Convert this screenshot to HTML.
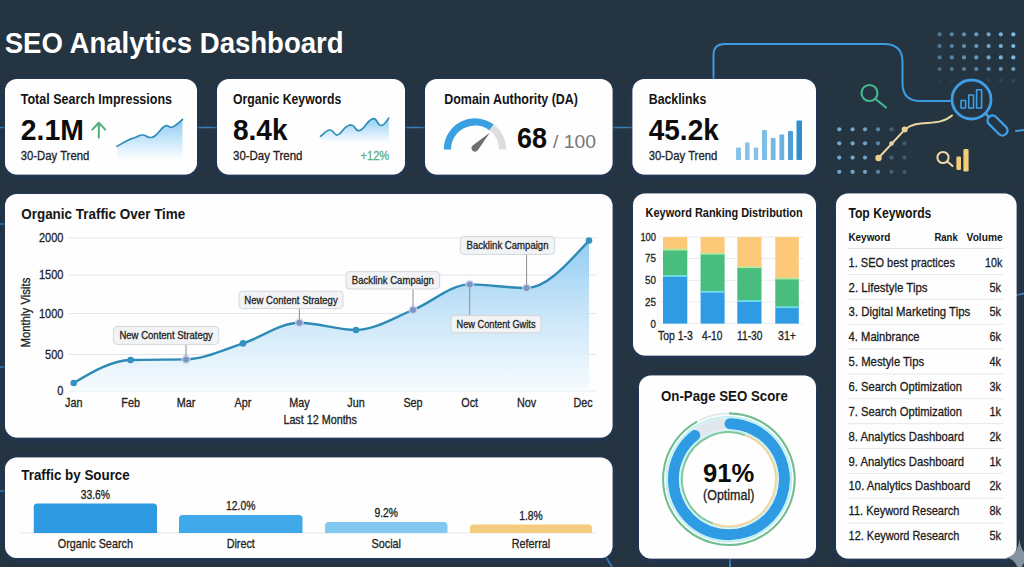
<!DOCTYPE html>
<html lang="en"><head><meta charset="utf-8"><title>SEO Analytics Dashboard</title>
<style>
html,body{margin:0;padding:0;background:#253441;}
body{width:1024px;height:567px;overflow:hidden;font-family:"Liberation Sans",sans-serif;}
svg{display:block;font-family:"Liberation Sans",sans-serif;}
text{white-space:pre;}
</style></head><body>
<svg width="1024" height="567" viewBox="0 0 1024 567">
<defs>
<filter id="sh" x="-5%" y="-10%" width="110%" height="125%"><feDropShadow dx="0" dy="1.5" stdDeviation="3" flood-color="#1c3763" flood-opacity="1"/></filter>
<linearGradient id="gs1" gradientUnits="userSpaceOnUse" x1="0" y1="120" x2="0" y2="160"><stop offset="0" stop-color="#8fcdf3"/><stop offset="1" stop-color="#ffffff"/></linearGradient>
<linearGradient id="gs2" gradientUnits="userSpaceOnUse" x1="0" y1="118" x2="0" y2="143"><stop offset="0" stop-color="#8fcdf3"/><stop offset="1" stop-color="#ffffff"/></linearGradient>
<linearGradient id="gmain" gradientUnits="userSpaceOnUse" x1="0" y1="240" x2="0" y2="391"><stop offset="0" stop-color="#93cdf3"/><stop offset=".55" stop-color="#cfe8f9"/><stop offset="1" stop-color="#f6fbfe"/></linearGradient>
</defs>
<rect width="1024" height="567" fill="#253441"/>
<g fill="none" stroke="#3a8fd0" stroke-width="1.6" stroke-linecap="round">
<path d="M0 127.5H5M197 127.5H217M405 127.5H425M612 127.5H633" stroke="#3b80b8"/>
<path d="M0 224H5M0 367H5M0 491H5" stroke="#3b80b8"/>
<path d="M713.5 79V55Q713.5 44 724.5 44H884Q902.5 44 902.5 62V83Q902.5 101 920 101H950" stroke="#3d9be0" stroke-width="2"/>
<path d="M1016 131L1024 130" stroke="#3d9be0" stroke-width="2"/>
<path d="M730 558V567" stroke="#4aa3df" stroke-width="1.6"/>
<path d="M1016 295Q1020 295 1024 293.5" stroke="#4a9ad8"/>
<path d="M606 557L612 567" stroke="#3b80b8"/>
</g>
<circle cx="939.6" cy="34.3" r="2.1" fill="#7fbde6" opacity="0.50"/>
<circle cx="951.8" cy="34.3" r="2.1" fill="#7fbde6" opacity="0.58"/>
<circle cx="964" cy="34.3" r="2.1" fill="#7fbde6" opacity="0.66"/>
<circle cx="976.3" cy="34.3" r="2.1" fill="#7fbde6" opacity="0.74"/>
<circle cx="988.6" cy="34.3" r="2.1" fill="#7fbde6" opacity="0.82"/>
<circle cx="1000.8" cy="34.3" r="2.1" fill="#7fbde6" opacity="0.90"/>
<circle cx="1013.3" cy="34.3" r="2.1" fill="#7fbde6" opacity="0.98"/>
<circle cx="939.6" cy="46" r="2.1" fill="#7fbde6" opacity="0.50"/>
<circle cx="951.8" cy="46" r="2.1" fill="#7fbde6" opacity="0.58"/>
<circle cx="964" cy="46" r="2.1" fill="#7fbde6" opacity="0.66"/>
<circle cx="976.3" cy="46" r="2.1" fill="#7fbde6" opacity="0.74"/>
<circle cx="988.6" cy="46" r="2.1" fill="#7fbde6" opacity="0.82"/>
<circle cx="1000.8" cy="46" r="2.1" fill="#7fbde6" opacity="0.90"/>
<circle cx="1013.3" cy="46" r="2.1" fill="#7fbde6" opacity="0.98"/>
<circle cx="939.6" cy="57.4" r="2.1" fill="#7fbde6" opacity="0.50"/>
<circle cx="951.8" cy="57.4" r="2.1" fill="#7fbde6" opacity="0.58"/>
<circle cx="964" cy="57.4" r="2.1" fill="#7fbde6" opacity="0.66"/>
<circle cx="976.3" cy="57.4" r="2.1" fill="#7fbde6" opacity="0.74"/>
<circle cx="988.6" cy="57.4" r="2.1" fill="#7fbde6" opacity="0.82"/>
<circle cx="1000.8" cy="57.4" r="2.1" fill="#7fbde6" opacity="0.90"/>
<circle cx="1013.3" cy="57.4" r="2.1" fill="#7fbde6" opacity="0.98"/>
<circle cx="939.6" cy="69" r="2.1" fill="#7fbde6" opacity="0.40"/>
<circle cx="951.8" cy="69" r="2.1" fill="#7fbde6" opacity="0.46"/>
<circle cx="964" cy="69" r="2.1" fill="#7fbde6" opacity="0.53"/>
<circle cx="976.3" cy="69" r="2.1" fill="#7fbde6" opacity="0.59"/>
<circle cx="988.6" cy="69" r="2.1" fill="#7fbde6" opacity="0.66"/>
<circle cx="1000.8" cy="69" r="2.1" fill="#7fbde6" opacity="0.72"/>
<circle cx="1013.3" cy="69" r="2.1" fill="#7fbde6" opacity="0.78"/>
<circle cx="939.6" cy="80.5" r="2.1" fill="#7fbde6" opacity="0.06"/>
<circle cx="951.8" cy="80.5" r="2.1" fill="#7fbde6" opacity="0.07"/>
<circle cx="964" cy="80.5" r="2.1" fill="#7fbde6" opacity="0.08"/>
<circle cx="976.3" cy="80.5" r="2.1" fill="#7fbde6" opacity="0.09"/>
<circle cx="988.6" cy="80.5" r="2.1" fill="#7fbde6" opacity="0.10"/>
<circle cx="1000.8" cy="80.5" r="2.1" fill="#7fbde6" opacity="0.11"/>
<circle cx="1013.3" cy="80.5" r="2.1" fill="#7fbde6" opacity="0.12"/>
<circle cx="839.3" cy="129.3" r="2.1" fill="#7fbde6" opacity="0.85"/>
<circle cx="852.6" cy="129.3" r="2.1" fill="#7fbde6" opacity="0.85"/>
<circle cx="865" cy="129.3" r="2.1" fill="#7fbde6" opacity="0.80"/>
<circle cx="878" cy="129.3" r="2.1" fill="#7fbde6" opacity="0.60"/>
<circle cx="891.5" cy="129.3" r="2.1" fill="#7fbde6" opacity="0.35"/>
<circle cx="904.5" cy="129.3" r="2.1" fill="#7fbde6" opacity="0.30"/>
<circle cx="839.3" cy="143.3" r="2.1" fill="#7fbde6" opacity="0.85"/>
<circle cx="852.6" cy="143.3" r="2.1" fill="#7fbde6" opacity="0.85"/>
<circle cx="865" cy="143.3" r="2.1" fill="#7fbde6" opacity="0.80"/>
<circle cx="878" cy="143.3" r="2.1" fill="#7fbde6" opacity="0.60"/>
<circle cx="891.5" cy="143.3" r="2.1" fill="#7fbde6" opacity="0.35"/>
<circle cx="904.5" cy="143.3" r="2.1" fill="#7fbde6" opacity="0.30"/>
<circle cx="839.3" cy="157.6" r="2.1" fill="#7fbde6" opacity="0.85"/>
<circle cx="852.6" cy="157.6" r="2.1" fill="#7fbde6" opacity="0.85"/>
<circle cx="865" cy="157.6" r="2.1" fill="#7fbde6" opacity="0.80"/>
<circle cx="878" cy="157.6" r="2.1" fill="#7fbde6" opacity="0.60"/>
<circle cx="891.5" cy="157.6" r="2.1" fill="#7fbde6" opacity="0.35"/>
<circle cx="904.5" cy="157.6" r="2.1" fill="#7fbde6" opacity="0.30"/>
<circle cx="839.3" cy="171.8" r="2.1" fill="#7fbde6" opacity="0.85"/>
<circle cx="852.6" cy="171.8" r="2.1" fill="#7fbde6" opacity="0.85"/>
<circle cx="865" cy="171.8" r="2.1" fill="#7fbde6" opacity="0.80"/>
<circle cx="878" cy="171.8" r="2.1" fill="#7fbde6" opacity="0.60"/>
<circle cx="891.5" cy="171.8" r="2.1" fill="#7fbde6" opacity="0.35"/>
<circle cx="904.5" cy="171.8" r="2.1" fill="#7fbde6" opacity="0.30"/>
<g fill="none" stroke="#43b98c" stroke-width="2.2" stroke-linecap="round"><circle cx="869.5" cy="93" r="8"/><path d="M875.5 99L886 107.5"/></g>
<g fill="none" stroke="#3f9ee4" stroke-width="2.8" stroke-linecap="round" stroke-linejoin="round"><circle cx="971.5" cy="99.5" r="19.5"/><path d="M985.5 113.5L989 117"/><rect x="-5" y="-12" width="10" height="24" rx="5" transform="translate(997.5 125.5) rotate(-45)" stroke-width="2.4"/><g stroke-width="1.6"><rect x="961" y="100.5" width="4.6" height="7.5"/><rect x="968.7" y="95" width="4.8" height="13"/><rect x="976.6" y="89.8" width="5" height="18.2"/></g></g>
<g fill="none" stroke="#ecd6a3" stroke-width="2" stroke-linecap="round"><path d="M878.5 158L904.7 129.6C918 118 938 128 952 115.5"/></g>
<circle cx="878.5" cy="158" r="3.2" fill="#f1cf8a"/><circle cx="904.7" cy="129.6" r="3" fill="#eccf95"/><circle cx="891.5" cy="143.5" r="2.2" fill="#e8d4a8"/>
<g fill="none" stroke="#f0d9a6" stroke-width="2" stroke-linecap="round"><circle cx="943" cy="157.5" r="5.6"/><path d="M947.3 161.6L952.5 166"/></g>
<rect x="956.4" y="156.5" width="4.6" height="13.5" rx="1.2" fill="#f2cd78"/><rect x="963.4" y="149" width="5.2" height="22.6" rx="1.4" fill="#f2cd78"/>
<text x="4.70" y="52.70" font-size="30.1" font-weight="700" fill="#ffffff" text-anchor="start" textLength="339.00" lengthAdjust="spacingAndGlyphs">SEO Analytics Dashboard</text>
<rect x="5" y="79" width="192" height="95.5" rx="12" fill="#fefefe" filter="url(#sh)"/>
<rect x="217" y="79" width="188" height="95.5" rx="12" fill="#fefefe" filter="url(#sh)"/>
<rect x="425" y="79" width="187.5" height="95.5" rx="12" fill="#fefefe" filter="url(#sh)"/>
<rect x="632.5" y="79" width="183.5" height="95.5" rx="12" fill="#fefefe" filter="url(#sh)"/>
<rect x="5" y="194" width="607.5" height="243.5" rx="12" fill="#fefefe" filter="url(#sh)"/>
<rect x="5" y="457.5" width="607.5" height="100.5" rx="12" fill="#fefefe" filter="url(#sh)"/>
<rect x="633" y="193.5" width="183" height="162" rx="12" fill="#fefefe" filter="url(#sh)"/>
<rect x="639" y="375.5" width="177" height="183" rx="12" fill="#fefefe" filter="url(#sh)"/>
<rect x="836" y="193.5" width="180.5" height="365" rx="12" fill="#fefefe" filter="url(#sh)"/>
<text x="20.75" y="103.80" font-size="14.31" font-weight="700" fill="#141414" text-anchor="start" textLength="151.25" lengthAdjust="spacingAndGlyphs">Total Search Impressions</text>
<text x="20.75" y="139.50" font-size="29.15" font-weight="700" fill="#0c0c0c" text-anchor="start" textLength="63.00" lengthAdjust="spacingAndGlyphs">2.1M</text>
<text x="20.75" y="160.00" font-size="12.72" stroke="#222" stroke-width=".3" fill="#222" text-anchor="start" textLength="68.50" lengthAdjust="spacingAndGlyphs">30-Day Trend</text>
<path d="M98.8 137.5V123.5M92.3 129.6L98.8 122.8L105.3 129.6" fill="none" stroke="#4fae7c" stroke-width="2" stroke-linecap="round" stroke-linejoin="round"/>
<path d="M117.0 146.3C119.6 144.9 123.0 142.7 127.5 140.5C132.0 138.3 131.2 138.9 135.0 137.5C138.8 136.1 138.8 135.0 142.5 135.0C146.2 135.0 146.6 137.5 150.0 137.5C153.4 137.5 152.2 137.9 156.0 135.0C159.8 132.1 160.9 128.0 165.0 126.0C169.1 124.0 168.1 128.6 172.5 127.0C176.9 125.4 180.0 121.4 182.5 119.5L182.5 160L117 160Z" fill="url(#gs1)"/>
<path d="M117.0 146.3C119.6 144.9 123.0 142.7 127.5 140.5C132.0 138.3 131.2 138.9 135.0 137.5C138.8 136.1 138.8 135.0 142.5 135.0C146.2 135.0 146.6 137.5 150.0 137.5C153.4 137.5 152.2 137.9 156.0 135.0C159.8 132.1 160.9 128.0 165.0 126.0C169.1 124.0 168.1 128.6 172.5 127.0C176.9 125.4 180.0 121.4 182.5 119.5" fill="none" stroke="#2f8bb8" stroke-width="1.7" stroke-linecap="round" stroke-linejoin="round"/>
<text x="233.00" y="103.80" font-size="14.31" font-weight="700" fill="#141414" text-anchor="start" textLength="108.25" lengthAdjust="spacingAndGlyphs">Organic Keywords</text>
<text x="233.00" y="139.50" font-size="29.15" font-weight="700" fill="#0c0c0c" text-anchor="start" textLength="54.50" lengthAdjust="spacingAndGlyphs">8.4k</text>
<text x="233.00" y="160.00" font-size="12.72" stroke="#222" stroke-width=".3" fill="#222" text-anchor="start" textLength="69.50" lengthAdjust="spacingAndGlyphs">30-Day Trend</text>
<text x="360.50" y="160.00" font-size="12.72" stroke="#5bb083" stroke-width=".3" fill="#5bb083" text-anchor="start" textLength="28.75" lengthAdjust="spacingAndGlyphs">+12%</text>
<path d="M320.5 136.3C322.9 134.7 325.8 130.3 330.0 130.0C334.2 129.7 333.5 135.8 337.5 135.0C341.5 134.2 342.2 129.4 346.0 127.0C349.8 124.6 349.0 124.6 352.5 125.5C356.0 126.4 355.0 132.2 360.0 130.5C365.0 128.8 367.2 120.0 372.5 118.8C377.8 117.5 376.9 125.7 381.0 125.5C385.1 125.3 386.9 119.9 388.8 118.0L388.8 143L320.5 143Z" fill="url(#gs2)"/>
<path d="M320.5 136.3C322.9 134.7 325.8 130.3 330.0 130.0C334.2 129.7 333.5 135.8 337.5 135.0C341.5 134.2 342.2 129.4 346.0 127.0C349.8 124.6 349.0 124.6 352.5 125.5C356.0 126.4 355.0 132.2 360.0 130.5C365.0 128.8 367.2 120.0 372.5 118.8C377.8 117.5 376.9 125.7 381.0 125.5C385.1 125.3 386.9 119.9 388.8 118.0" fill="none" stroke="#2f8bb8" stroke-width="1.7" stroke-linecap="round" stroke-linejoin="round"/>
<text x="444.25" y="103.80" font-size="14.31" font-weight="700" fill="#141414" text-anchor="start" textLength="133.75" lengthAdjust="spacingAndGlyphs">Domain Authority (DA)</text>
<text x="517.00" y="147.50" font-size="28.62" font-weight="700" fill="#0c0c0c" text-anchor="start" textLength="30.00" lengthAdjust="spacingAndGlyphs">68</text>
<text x="553.00" y="147.50" font-size="19.08" fill="#777" text-anchor="start" textLength="43.00" lengthAdjust="spacingAndGlyphs">/ 100</text>
<path d="M443.80 149.50A31.2 31.2 0 0 1 493.78 124.58L489.44 130.33A24.0 24.0 0 0 0 451.00 149.50Z" fill="#3aa0e2"/>
<path d="M493.78 124.58A31.2 31.2 0 0 1 506.20 149.50L499.00 149.50A24.0 24.0 0 0 0 489.44 130.33Z" fill="#dcdde0"/>
<path d="M489.8 132.8L478.3 149.6A3.6 3.6 0 1 1 472.6 145.4Z" fill="#6f7073"/>
<text x="648.75" y="103.80" font-size="14.31" font-weight="700" fill="#141414" text-anchor="start" textLength="57.50" lengthAdjust="spacingAndGlyphs">Backlinks</text>
<text x="648.75" y="139.50" font-size="29.15" font-weight="700" fill="#0c0c0c" text-anchor="start" textLength="70.00" lengthAdjust="spacingAndGlyphs">45.2k</text>
<text x="648.75" y="160.00" font-size="12.72" stroke="#222" stroke-width=".3" fill="#222" text-anchor="start" textLength="68.50" lengthAdjust="spacingAndGlyphs">30-Day Trend</text>
<rect x="736" y="147.5" width="5.0" height="12.5" rx="0.8" fill="#86c1e6"/>
<rect x="745" y="142.5" width="4.6" height="17.5" rx="0.8" fill="#86c1e6"/>
<rect x="753.8" y="147.5" width="4.4" height="12.5" rx="0.8" fill="#86c1e6"/>
<rect x="762" y="130" width="5.0" height="30.0" rx="0.8" fill="#7dbde6"/>
<rect x="770.8" y="138" width="4.8" height="22.0" rx="0.8" fill="#74b7e2"/>
<rect x="779.4" y="134.5" width="4.8" height="25.5" rx="0.8" fill="#6ab1df"/>
<rect x="788" y="131" width="5.0" height="29.0" rx="0.8" fill="#4f9fd3"/>
<rect x="796.5" y="120.5" width="5.5" height="39.5" rx="0.8" fill="#2d8fd0"/>
<text x="21.25" y="219.40" font-size="14.84" font-weight="700" fill="#141414" text-anchor="start" textLength="164.00" lengthAdjust="spacingAndGlyphs">Organic Traffic Over Time</text>
<path d="M69 238H596" stroke="#e3e6e9" stroke-width="1"/>
<text x="63.40" y="242.30" font-size="12.72" stroke="#222" stroke-width=".3" fill="#222" text-anchor="end" textLength="24.42" lengthAdjust="spacingAndGlyphs">2000</text>
<path d="M69 275H596" stroke="#e3e6e9" stroke-width="1"/>
<text x="63.40" y="279.30" font-size="12.72" stroke="#222" stroke-width=".3" fill="#222" text-anchor="end" textLength="24.42" lengthAdjust="spacingAndGlyphs">1500</text>
<path d="M69 313.5H596" stroke="#e3e6e9" stroke-width="1"/>
<text x="63.40" y="317.80" font-size="12.72" stroke="#222" stroke-width=".3" fill="#222" text-anchor="end" textLength="24.42" lengthAdjust="spacingAndGlyphs">1000</text>
<path d="M69 354.5H596" stroke="#e3e6e9" stroke-width="1"/>
<text x="63.40" y="358.80" font-size="12.72" stroke="#222" stroke-width=".3" fill="#222" text-anchor="end" textLength="18.32" lengthAdjust="spacingAndGlyphs">500</text>
<path d="M69 391H596" stroke="#e3e6e9" stroke-width="1"/>
<text x="63.40" y="395.30" font-size="12.72" stroke="#222" stroke-width=".3" fill="#222" text-anchor="end" textLength="6.11" lengthAdjust="spacingAndGlyphs">0</text>
<text x="0.00" y="0.00" font-size="12.19" stroke="#222" stroke-width=".3" fill="#222" text-anchor="middle" textLength="70.00" lengthAdjust="spacingAndGlyphs" transform="translate(30 312.6) rotate(-90)">Monthly Visits</text>
<text x="73.75" y="406.80" font-size="12.72" stroke="#222" stroke-width=".3" fill="#222" text-anchor="middle" textLength="17.41" lengthAdjust="spacingAndGlyphs">Jan</text>
<text x="130.60" y="406.80" font-size="12.72" stroke="#222" stroke-width=".3" fill="#222" text-anchor="middle" textLength="18.61" lengthAdjust="spacingAndGlyphs">Feb</text>
<text x="186.00" y="406.80" font-size="12.72" stroke="#222" stroke-width=".3" fill="#222" text-anchor="middle" textLength="18.60" lengthAdjust="spacingAndGlyphs">Mar</text>
<text x="243.00" y="406.80" font-size="12.72" stroke="#222" stroke-width=".3" fill="#222" text-anchor="middle" textLength="16.81" lengthAdjust="spacingAndGlyphs">Apr</text>
<text x="299.40" y="406.80" font-size="12.72" stroke="#222" stroke-width=".3" fill="#222" text-anchor="middle" textLength="20.40" lengthAdjust="spacingAndGlyphs">May</text>
<text x="356.00" y="406.80" font-size="12.72" stroke="#222" stroke-width=".3" fill="#222" text-anchor="middle" textLength="17.41" lengthAdjust="spacingAndGlyphs">Jun</text>
<text x="413.00" y="406.80" font-size="12.72" stroke="#222" stroke-width=".3" fill="#222" text-anchor="middle" textLength="19.22" lengthAdjust="spacingAndGlyphs">Sep</text>
<text x="469.70" y="406.80" font-size="12.72" stroke="#222" stroke-width=".3" fill="#222" text-anchor="middle" textLength="16.80" lengthAdjust="spacingAndGlyphs">Oct</text>
<text x="526.60" y="406.80" font-size="12.72" stroke="#222" stroke-width=".3" fill="#222" text-anchor="middle" textLength="19.21" lengthAdjust="spacingAndGlyphs">Nov</text>
<text x="583.00" y="406.80" font-size="12.72" stroke="#222" stroke-width=".3" fill="#222" text-anchor="middle" textLength="19.21" lengthAdjust="spacingAndGlyphs">Dec</text>
<text x="320.20" y="424.30" font-size="12.72" stroke="#222" stroke-width=".3" fill="#222" text-anchor="middle" textLength="73.60" lengthAdjust="spacingAndGlyphs">Last 12 Months</text>
<path d="M73.8 383.0C92.7 371.5 111.6 360.5 130.6 360.0C149.1 359.5 167.5 359.7 186.0 359.4C205.0 359.0 224.0 349.5 243.0 343.4C261.8 337.3 280.6 322.8 299.4 322.8C318.3 322.8 337.1 330.0 356.0 330.0C375.0 330.0 394.0 317.6 413.0 310.0C431.9 302.4 450.8 284.4 469.7 284.4C488.7 284.4 507.6 288.0 526.6 288.0C547.4 288.0 568.2 262.7 589.0 240.6L589 391L73.75 391Z" fill="url(#gmain)"/>
<path d="M73.8 383.0C92.7 371.5 111.6 360.5 130.6 360.0C149.1 359.5 167.5 359.7 186.0 359.4C205.0 359.0 224.0 349.5 243.0 343.4C261.8 337.3 280.6 322.8 299.4 322.8C318.3 322.8 337.1 330.0 356.0 330.0C375.0 330.0 394.0 317.6 413.0 310.0C431.9 302.4 450.8 284.4 469.7 284.4C488.7 284.4 507.6 288.0 526.6 288.0C547.4 288.0 568.2 262.7 589.0 240.6" fill="none" stroke="#2d8bb6" stroke-width="2.4" stroke-linecap="round" stroke-linejoin="round"/>
<circle cx="73.75" cy="383" r="3.3" fill="#3590c0"/>
<circle cx="130.6" cy="360" r="3.3" fill="#3590c0"/>
<circle cx="186" cy="359.4" r="4.6" fill="#c9d6ea" opacity=".8"/><circle cx="186" cy="359.4" r="3" fill="#7d93c4"/>
<circle cx="243" cy="343.4" r="3.3" fill="#3590c0"/>
<circle cx="299.4" cy="322.8" r="4.6" fill="#c9d6ea" opacity=".8"/><circle cx="299.4" cy="322.8" r="3" fill="#7d93c4"/>
<circle cx="356" cy="330" r="3.3" fill="#3590c0"/>
<circle cx="413" cy="310" r="4.6" fill="#c9d6ea" opacity=".8"/><circle cx="413" cy="310" r="3" fill="#7d93c4"/>
<circle cx="469.7" cy="284.4" r="4.6" fill="#c9d6ea" opacity=".8"/><circle cx="469.7" cy="284.4" r="3" fill="#7d93c4"/>
<circle cx="526.6" cy="288" r="4.6" fill="#c9d6ea" opacity=".8"/><circle cx="526.6" cy="288" r="3" fill="#7d93c4"/>
<circle cx="589" cy="240.6" r="3.3" fill="#3590c0"/>
<path d="M186 344.4V356" stroke="#8a8f96" stroke-width="1"/>
<rect x="113.4" y="326.5" width="105.4" height="17.9" rx="3.5" fill="#f1f3f5" stroke="#d3d7dc" stroke-width="1"/>
<text x="166.10" y="339.25" font-size="11.13" stroke="#222" stroke-width=".3" fill="#222" text-anchor="middle" textLength="93.40" lengthAdjust="spacingAndGlyphs">New Content Strategy</text>
<path d="M299.4 308.6V319.5" stroke="#8a8f96" stroke-width="1"/>
<rect x="239" y="291.2" width="104.0" height="17.4" rx="3.5" fill="#f1f3f5" stroke="#d3d7dc" stroke-width="1"/>
<text x="291.00" y="303.70" font-size="11.13" stroke="#222" stroke-width=".3" fill="#222" text-anchor="middle" textLength="93.40" lengthAdjust="spacingAndGlyphs">New Content Strategy</text>
<path d="M413 289V306.5" stroke="#8a8f96" stroke-width="1"/>
<rect x="346" y="271.6" width="93.7" height="17.4" rx="3.5" fill="#f1f3f5" stroke="#d3d7dc" stroke-width="1"/>
<text x="392.85" y="284.10" font-size="11.13" stroke="#222" stroke-width=".3" fill="#222" text-anchor="middle" textLength="82.00" lengthAdjust="spacingAndGlyphs">Backlink Campaign</text>
<path d="M526.6 254.4V284.5" stroke="#8a8f96" stroke-width="1"/>
<rect x="460.3" y="236.6" width="94.4" height="17.8" rx="3.5" fill="#f1f3f5" stroke="#d3d7dc" stroke-width="1"/>
<text x="507.50" y="249.30" font-size="11.13" stroke="#222" stroke-width=".3" fill="#222" text-anchor="middle" textLength="82.00" lengthAdjust="spacingAndGlyphs">Backlink Campaign</text>
<path d="M469.7 288V315.6" stroke="#8a8f96" stroke-width="1"/>
<rect x="451" y="315.6" width="90.0" height="17.2" rx="3.5" fill="#f1f3f5" stroke="#d3d7dc" stroke-width="1"/>
<text x="496.00" y="328.00" font-size="11.13" stroke="#222" stroke-width=".3" fill="#222" text-anchor="middle" textLength="79.00" lengthAdjust="spacingAndGlyphs">New Content Gwits</text>
<text x="21.25" y="480.00" font-size="15.05" font-weight="700" fill="#141414" text-anchor="start" textLength="108.50" lengthAdjust="spacingAndGlyphs">Traffic by Source</text>
<path d="M20 533H596" stroke="#e6e8ea" stroke-width="1"/>
<path d="M33.75 533V506.9Q33.75 503.4 37.25 503.4H153.5Q157 503.4 157 506.9V533Z" fill="#2d9ae2"/>
<text x="95.38" y="499.00" font-size="12.19" stroke="#222" stroke-width=".3" fill="#222" text-anchor="middle" textLength="29.35" lengthAdjust="spacingAndGlyphs">33.6%</text>
<text x="95.38" y="547.80" font-size="12.72" stroke="#222" stroke-width=".3" fill="#222" text-anchor="middle" textLength="75.03" lengthAdjust="spacingAndGlyphs">Organic Search</text>
<path d="M179 533V518.5Q179 515 182.5 515H299.0Q302.5 515 302.5 518.5V533Z" fill="#3fa9ea"/>
<text x="240.75" y="510.00" font-size="12.19" stroke="#222" stroke-width=".3" fill="#222" text-anchor="middle" textLength="29.35" lengthAdjust="spacingAndGlyphs">12.0%</text>
<text x="240.75" y="547.80" font-size="12.72" stroke="#222" stroke-width=".3" fill="#222" text-anchor="middle" textLength="28.20" lengthAdjust="spacingAndGlyphs">Direct</text>
<path d="M325 533V525.5Q325 522 328.5 522H444.0Q447.5 522 447.5 525.5V533Z" fill="#83c8f0"/>
<text x="386.25" y="517.40" font-size="12.19" stroke="#222" stroke-width=".3" fill="#222" text-anchor="middle" textLength="23.59" lengthAdjust="spacingAndGlyphs">9.2%</text>
<text x="386.25" y="547.80" font-size="12.72" stroke="#222" stroke-width=".3" fill="#222" text-anchor="middle" textLength="29.41" lengthAdjust="spacingAndGlyphs">Social</text>
<path d="M470 533V527.9Q470 524.4 473.5 524.4H588.5Q592 524.4 592 527.9V533Z" fill="#f5cb7e"/>
<text x="531.00" y="519.60" font-size="12.19" stroke="#222" stroke-width=".3" fill="#222" text-anchor="middle" textLength="23.59" lengthAdjust="spacingAndGlyphs">1.8%</text>
<text x="531.00" y="547.80" font-size="12.72" stroke="#222" stroke-width=".3" fill="#222" text-anchor="middle" textLength="38.41" lengthAdjust="spacingAndGlyphs">Referral</text>
<text x="645.60" y="216.80" font-size="13.04" font-weight="700" fill="#141414" text-anchor="start" textLength="157.00" lengthAdjust="spacingAndGlyphs">Keyword Ranking Distribution</text>
<path d="M659 237H803" stroke="#e9ecef" stroke-width="1"/>
<text x="656.00" y="240.90" font-size="11.45" stroke="#222" stroke-width=".3" fill="#222" text-anchor="end" textLength="15.60" lengthAdjust="spacingAndGlyphs">100</text>
<path d="M659 258.5H803" stroke="#e9ecef" stroke-width="1"/>
<text x="656.00" y="262.40" font-size="11.45" stroke="#222" stroke-width=".3" fill="#222" text-anchor="end" textLength="11.00" lengthAdjust="spacingAndGlyphs">75</text>
<path d="M659 280.3H803" stroke="#e9ecef" stroke-width="1"/>
<text x="656.00" y="284.20" font-size="11.45" stroke="#222" stroke-width=".3" fill="#222" text-anchor="end" textLength="11.00" lengthAdjust="spacingAndGlyphs">50</text>
<path d="M659 302H803" stroke="#e9ecef" stroke-width="1"/>
<text x="656.00" y="305.90" font-size="11.45" stroke="#222" stroke-width=".3" fill="#222" text-anchor="end" textLength="11.00" lengthAdjust="spacingAndGlyphs">25</text>
<path d="M659 323.6H803" stroke="#e9ecef" stroke-width="1"/>
<text x="656.00" y="327.50" font-size="11.45" stroke="#222" stroke-width=".3" fill="#222" text-anchor="end" textLength="5.40" lengthAdjust="spacingAndGlyphs">0</text>
<rect x="663" y="237" width="24.3" height="12.6" fill="#fbc978"/>
<rect x="663" y="249.6" width="24.3" height="26.4" fill="#48bd7e"/>
<rect x="663" y="276" width="24.3" height="47.6" fill="#2e9be3"/>
<rect x="663" y="248.7" width="24.3" height="1.8" fill="#b9eaa0"/>
<rect x="663" y="275.1" width="24.3" height="1.8" fill="#6fe0e8"/>
<rect x="700.6" y="237" width="24.0" height="16.7" fill="#fbc978"/>
<rect x="700.6" y="253.7" width="24.0" height="38.1" fill="#48bd7e"/>
<rect x="700.6" y="291.8" width="24.0" height="31.8" fill="#2e9be3"/>
<rect x="700.6" y="252.79999999999998" width="24.0" height="1.8" fill="#b9eaa0"/>
<rect x="700.6" y="290.90000000000003" width="24.0" height="1.8" fill="#6fe0e8"/>
<rect x="737.3" y="237" width="24.2" height="30.2" fill="#fbc978"/>
<rect x="737.3" y="267.2" width="24.2" height="33.8" fill="#48bd7e"/>
<rect x="737.3" y="301" width="24.2" height="22.6" fill="#2e9be3"/>
<rect x="737.3" y="266.3" width="24.2" height="1.8" fill="#b9eaa0"/>
<rect x="737.3" y="300.1" width="24.2" height="1.8" fill="#6fe0e8"/>
<rect x="775.3" y="237" width="23.5" height="41.5" fill="#fbc978"/>
<rect x="775.3" y="278.5" width="23.5" height="28.7" fill="#48bd7e"/>
<rect x="775.3" y="307.2" width="23.5" height="16.4" fill="#2e9be3"/>
<rect x="775.3" y="277.6" width="23.5" height="1.8" fill="#b9eaa0"/>
<rect x="775.3" y="306.3" width="23.5" height="1.8" fill="#6fe0e8"/>
<text x="658.00" y="340.20" font-size="12.72" stroke="#222" stroke-width=".3" fill="#222" text-anchor="start" textLength="34.80" lengthAdjust="spacingAndGlyphs">Top 1-3</text>
<text x="702.00" y="340.20" font-size="12.72" stroke="#222" stroke-width=".3" fill="#222" text-anchor="start" textLength="20.50" lengthAdjust="spacingAndGlyphs">4-10</text>
<text x="737.00" y="340.20" font-size="12.72" stroke="#222" stroke-width=".3" fill="#222" text-anchor="start" textLength="25.50" lengthAdjust="spacingAndGlyphs">11-30</text>
<text x="778.00" y="340.20" font-size="12.72" stroke="#222" stroke-width=".3" fill="#222" text-anchor="start" textLength="18.00" lengthAdjust="spacingAndGlyphs">31+</text>
<text x="661.00" y="401.00" font-size="14.84" font-weight="700" fill="#141414" text-anchor="start" textLength="126.80" lengthAdjust="spacingAndGlyphs">On-Page SEO Score</text>
<path d="M728.90 413.40A65.8 65.8 0 1 1 697.00 421.65" fill="none" stroke="#72bd90" stroke-width="2.1" stroke-linecap="butt" opacity="1"/>
<path d="M697.00 421.65A65.8 65.8 0 0 1 728.90 413.40" fill="none" stroke="#e6ecec" stroke-width="2.1" stroke-linecap="butt" opacity="1"/>
<circle cx="728.9" cy="479.2" r="62.3" fill="none" stroke="#bff0f3" stroke-width="2"/>
<circle cx="728.9" cy="479.2" r="48.6" fill="none" stroke="#c8f1f1" stroke-width="1.6"/>
<path d="M691.76 437.96A55.5 55.5 0 0 1 730.84 423.73" fill="none" stroke="#e1e7ee" stroke-width="11" stroke-linecap="butt" opacity="1"/>
<path d="M730.06 423.71A55.5 55.5 0 1 1 694.73 435.47" fill="none" stroke="#2f9be3" stroke-width="11" stroke-linecap="round" opacity="1"/>
<path d="M712.83 523.37A47 47 0 0 1 744.97 435.03" fill="none" stroke="#7ec79a" stroke-width="1.9" stroke-linecap="butt" opacity="1"/>
<path d="M744.97 435.03A47 47 0 0 1 712.83 523.37" fill="none" stroke="#f3d596" stroke-width="1.9" stroke-linecap="butt" opacity="1"/>
<text x="703.00" y="481.70" font-size="26.5" font-weight="700" fill="#0c0c0c" text-anchor="start" textLength="51.30" lengthAdjust="spacingAndGlyphs">91%</text>
<text x="728.70" y="499.60" font-size="13.78" stroke="#222" stroke-width=".3" fill="#222" text-anchor="middle" textLength="51.30" lengthAdjust="spacingAndGlyphs">(Optimal)</text>
<text x="848.40" y="217.50" font-size="14.31" font-weight="700" fill="#141414" text-anchor="start" textLength="83.00" lengthAdjust="spacingAndGlyphs">Top Keywords</text>
<text x="848.40" y="241.30" font-size="11.66" font-weight="700" fill="#141414" text-anchor="start" textLength="42.00" lengthAdjust="spacingAndGlyphs">Keyword</text>
<text x="934.40" y="241.30" font-size="11.66" font-weight="700" fill="#141414" text-anchor="start" textLength="23.40" lengthAdjust="spacingAndGlyphs">Rank</text>
<text x="966.60" y="241.30" font-size="11.66" font-weight="700" fill="#141414" text-anchor="start" textLength="36.10" lengthAdjust="spacingAndGlyphs">Volume</text>
<path d="M848 248.5H1003" stroke="#e2e5e8" stroke-width="1"/>
<path d="M848 274.6H1003" stroke="#e4e7ea" stroke-width="1"/>
<text x="848.60" y="266.75" font-size="12.93" stroke="#1c1c1c" stroke-width=".3" fill="#1c1c1c" text-anchor="start" textLength="106.30" lengthAdjust="spacingAndGlyphs">1. SEO best practices</text>
<text x="1002.30" y="266.75" font-size="12.93" stroke="#1c1c1c" stroke-width=".3" fill="#1c1c1c" text-anchor="end" textLength="17.30" lengthAdjust="spacingAndGlyphs">10k</text>
<path d="M848 299.4H1003" stroke="#e4e7ea" stroke-width="1"/>
<text x="848.60" y="291.59" font-size="12.93" stroke="#1c1c1c" stroke-width=".3" fill="#1c1c1c" text-anchor="start" textLength="79.00" lengthAdjust="spacingAndGlyphs">2. Lifestyle Tips</text>
<text x="1000.90" y="291.59" font-size="12.93" stroke="#1c1c1c" stroke-width=".3" fill="#1c1c1c" text-anchor="end" textLength="11.50" lengthAdjust="spacingAndGlyphs">5k</text>
<path d="M848 324.3H1003" stroke="#e4e7ea" stroke-width="1"/>
<text x="848.60" y="316.44" font-size="12.93" stroke="#1c1c1c" stroke-width=".3" fill="#1c1c1c" text-anchor="start" textLength="121.60" lengthAdjust="spacingAndGlyphs">3. Digital Marketing Tips</text>
<text x="1000.90" y="316.44" font-size="12.93" stroke="#1c1c1c" stroke-width=".3" fill="#1c1c1c" text-anchor="end" textLength="11.50" lengthAdjust="spacingAndGlyphs">5k</text>
<path d="M848 349.1H1003" stroke="#e4e7ea" stroke-width="1"/>
<text x="848.60" y="341.29" font-size="12.93" stroke="#1c1c1c" stroke-width=".3" fill="#1c1c1c" text-anchor="start" textLength="71.00" lengthAdjust="spacingAndGlyphs">4. Mainbrance</text>
<text x="1000.90" y="341.29" font-size="12.93" stroke="#1c1c1c" stroke-width=".3" fill="#1c1c1c" text-anchor="end" textLength="11.50" lengthAdjust="spacingAndGlyphs">6k</text>
<path d="M848 374.0H1003" stroke="#e4e7ea" stroke-width="1"/>
<text x="848.60" y="366.13" font-size="12.93" stroke="#1c1c1c" stroke-width=".3" fill="#1c1c1c" text-anchor="start" textLength="75.50" lengthAdjust="spacingAndGlyphs">5. Mestyle Tips</text>
<text x="1000.90" y="366.13" font-size="12.93" stroke="#1c1c1c" stroke-width=".3" fill="#1c1c1c" text-anchor="end" textLength="11.50" lengthAdjust="spacingAndGlyphs">4k</text>
<path d="M848 398.8H1003" stroke="#e4e7ea" stroke-width="1"/>
<text x="848.60" y="390.97" font-size="12.93" stroke="#1c1c1c" stroke-width=".3" fill="#1c1c1c" text-anchor="start" textLength="113.40" lengthAdjust="spacingAndGlyphs">6. Search Optimization</text>
<text x="1000.90" y="390.97" font-size="12.93" stroke="#1c1c1c" stroke-width=".3" fill="#1c1c1c" text-anchor="end" textLength="11.50" lengthAdjust="spacingAndGlyphs">3k</text>
<path d="M848 423.7H1003" stroke="#e4e7ea" stroke-width="1"/>
<text x="848.60" y="415.82" font-size="12.93" stroke="#1c1c1c" stroke-width=".3" fill="#1c1c1c" text-anchor="start" textLength="113.40" lengthAdjust="spacingAndGlyphs">7. Search Optimization</text>
<text x="1000.90" y="415.82" font-size="12.93" stroke="#1c1c1c" stroke-width=".3" fill="#1c1c1c" text-anchor="end" textLength="11.50" lengthAdjust="spacingAndGlyphs">1k</text>
<path d="M848 448.5H1003" stroke="#e4e7ea" stroke-width="1"/>
<text x="848.60" y="440.67" font-size="12.93" stroke="#1c1c1c" stroke-width=".3" fill="#1c1c1c" text-anchor="start" textLength="115.50" lengthAdjust="spacingAndGlyphs">8. Analytics Dashboard</text>
<text x="1000.90" y="440.67" font-size="12.93" stroke="#1c1c1c" stroke-width=".3" fill="#1c1c1c" text-anchor="end" textLength="11.50" lengthAdjust="spacingAndGlyphs">2k</text>
<path d="M848 473.4H1003" stroke="#e4e7ea" stroke-width="1"/>
<text x="848.60" y="465.51" font-size="12.93" stroke="#1c1c1c" stroke-width=".3" fill="#1c1c1c" text-anchor="start" textLength="115.50" lengthAdjust="spacingAndGlyphs">9. Analytics Dashboard</text>
<text x="1000.90" y="465.51" font-size="12.93" stroke="#1c1c1c" stroke-width=".3" fill="#1c1c1c" text-anchor="end" textLength="11.50" lengthAdjust="spacingAndGlyphs">1k</text>
<path d="M848 498.2H1003" stroke="#e4e7ea" stroke-width="1"/>
<text x="848.60" y="490.35" font-size="12.93" stroke="#1c1c1c" stroke-width=".3" fill="#1c1c1c" text-anchor="start" textLength="121.60" lengthAdjust="spacingAndGlyphs">10. Analytics Dashboard</text>
<text x="1000.90" y="490.35" font-size="12.93" stroke="#1c1c1c" stroke-width=".3" fill="#1c1c1c" text-anchor="end" textLength="11.50" lengthAdjust="spacingAndGlyphs">2k</text>
<path d="M848 523.0H1003" stroke="#e4e7ea" stroke-width="1"/>
<text x="848.60" y="515.20" font-size="12.93" stroke="#1c1c1c" stroke-width=".3" fill="#1c1c1c" text-anchor="start" textLength="110.70" lengthAdjust="spacingAndGlyphs">11. Keyword Research</text>
<text x="1000.90" y="515.20" font-size="12.93" stroke="#1c1c1c" stroke-width=".3" fill="#1c1c1c" text-anchor="end" textLength="11.50" lengthAdjust="spacingAndGlyphs">8k</text>
<text x="848.60" y="540.05" font-size="12.93" stroke="#1c1c1c" stroke-width=".3" fill="#1c1c1c" text-anchor="start" textLength="110.70" lengthAdjust="spacingAndGlyphs">12. Keyword Research</text>
<text x="1000.90" y="540.05" font-size="12.93" stroke="#1c1c1c" stroke-width=".3" fill="#1c1c1c" text-anchor="end" textLength="11.50" lengthAdjust="spacingAndGlyphs">5k</text>
<path d="M1019.5 539Q1021 555 1033 557.5Q1021 560 1019.5 576Q1018 560 1006.5 557.5Q1018 555 1019.5 539Z" fill="#8d9aa9" opacity=".92"/>
</svg>
</body></html>
